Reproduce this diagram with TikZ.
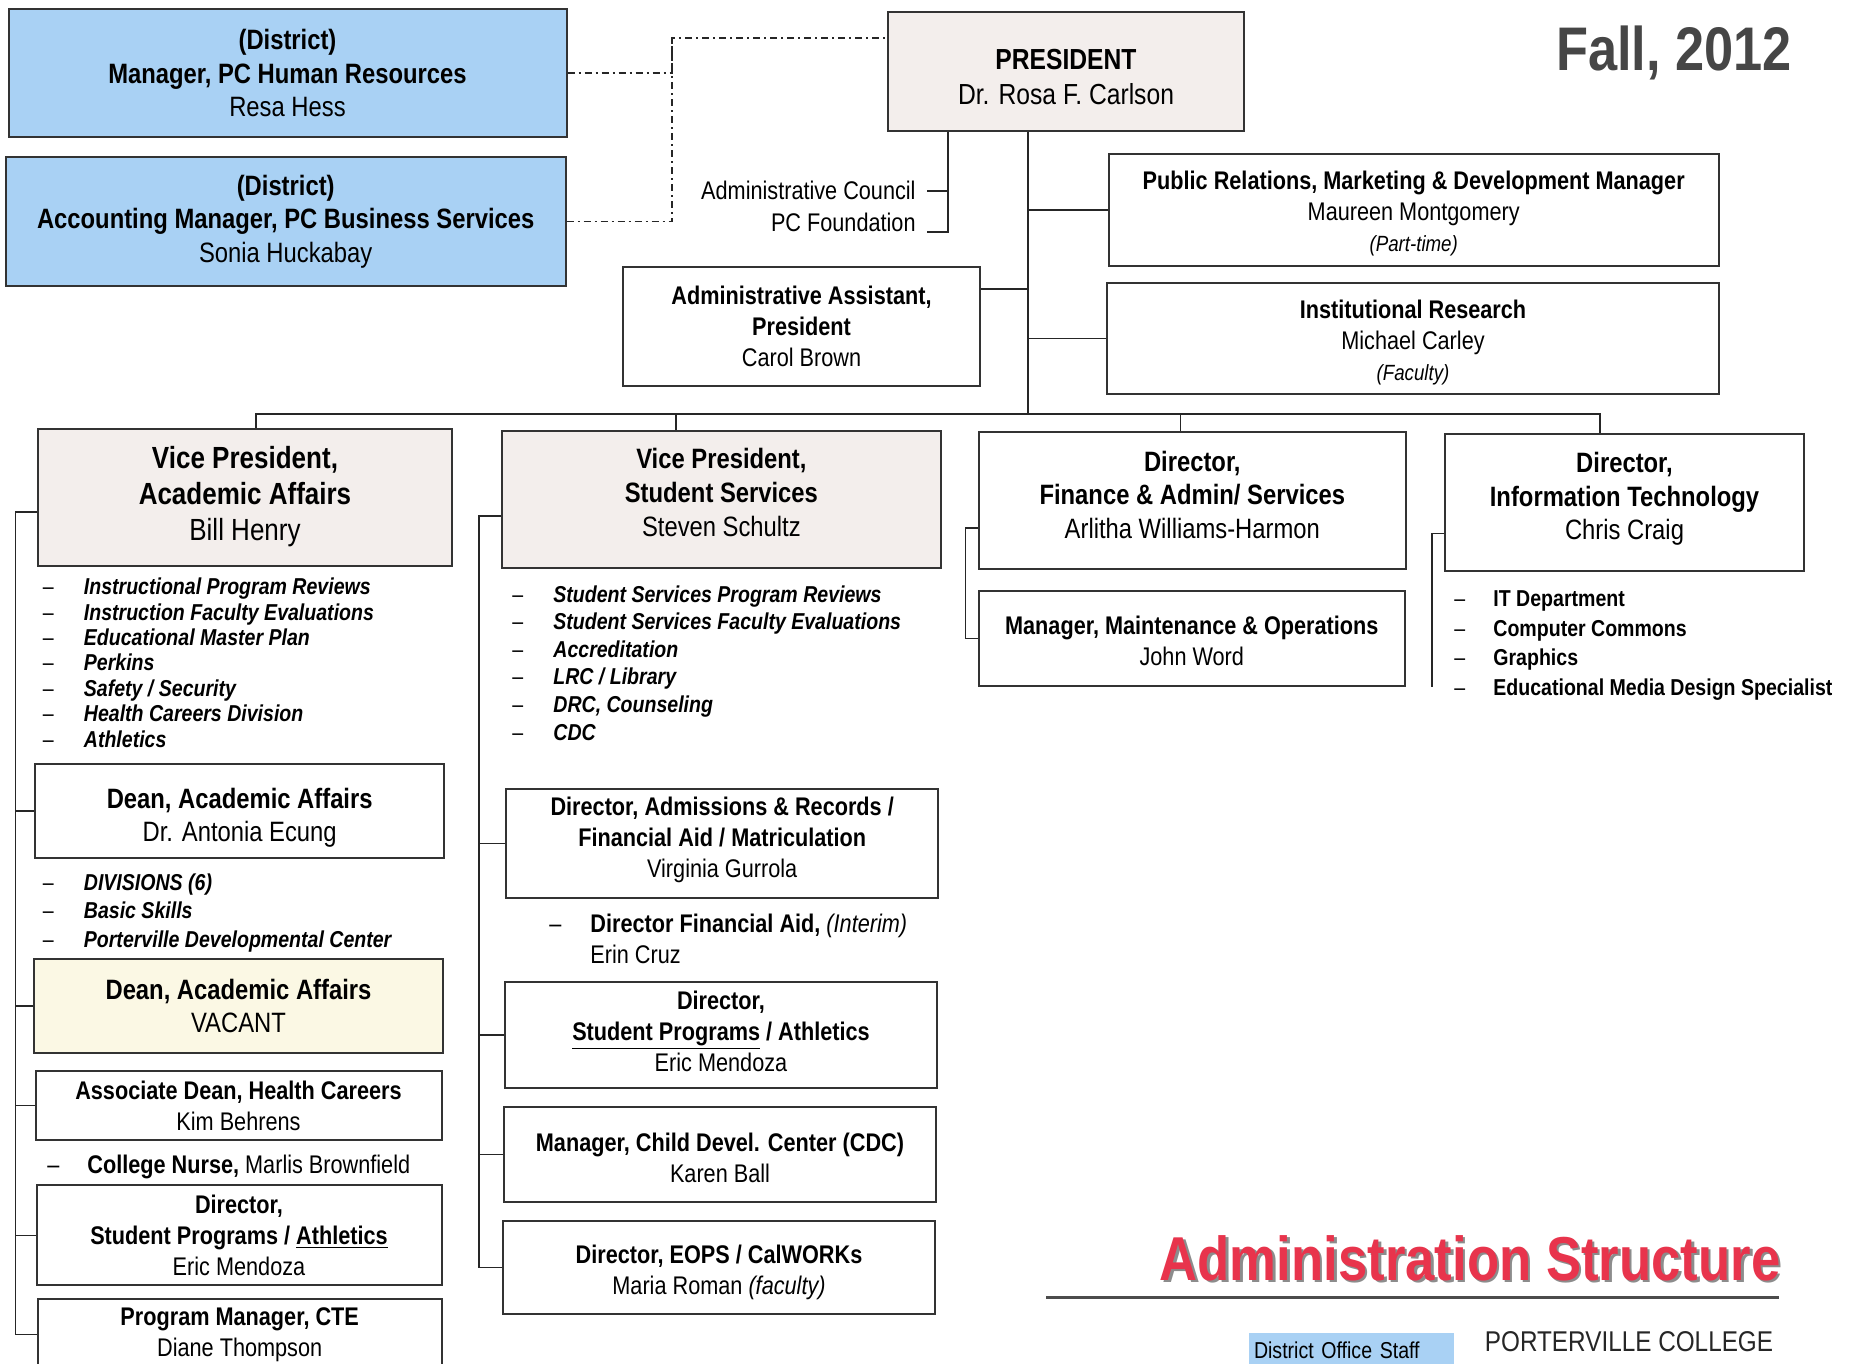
\documentclass[tikz,border=0pt]{standalone}
\usepackage{fontspec}
\setmainfont{Liberation Sans}[FakeStretch=0.85]
\usetikzlibrary{calc}

\definecolor{distblue}{RGB}{169,209,244}
\definecolor{vpfill}{RGB}{243,238,236}
\definecolor{vacfill}{RGB}{251,248,228}
\definecolor{titlered}{RGB}{232,52,76}
\definecolor{fallgray}{RGB}{70,70,70}

\newcommand{\txtsmall}{\fontsize{12.75pt}{15.4pt}\selectfont}
\newcommand{\txtmid}{\fontsize{14pt}{16.8pt}\selectfont}
\newcommand{\txtbig}{\fontsize{15.3pt}{18pt}\selectfont}
\newcommand{\txtnote}{\fontsize{11pt}{13pt}\selectfont}
\newcommand{\dashitem}[1][20.5pt]{\makebox[#1][l]{\normalfont --}}

\tikzset{
  box/.style={draw=black!80, line width=1pt, fill=white, align=center, inner sep=0pt, font=\txtsmall},
  wh/.style 2 args={minimum width=#1*0.5pt, minimum height=#2*0.5pt},
  conn/.style={draw=black!85, line width=0.8pt},
  distline/.style={draw=black!85, line width=0.7pt, dash pattern=on 3.5pt off 2pt on 1pt off 2pt},
  listtxt/.style={anchor=base west, align=left, inner sep=0pt},
}

\begin{document}
\begin{tikzpicture}[x=0.5pt,y=-0.5pt]
    \useasboundingbox (0,0) rectangle (1851,1364);
    \clip (0,0) rectangle (1851,1364);

    % district office staff
    \node[box, fill=distblue, font=\txtmid, wh={558}{128}] (hr) at (287.5,73.2)
        {\textbf{(District)}\\\textbf{Manager, PC Human Resources}\\Resa Hess};
    \node[box, fill=distblue, font=\txtmid, wh={560}{129}] (acct) at (285.7,221.4)
        {\textbf{(District)}\\\textbf{Accounting Manager, PC Business Services}\\Sonia Huckabay};

    % president and staff
    \node[box, fill=vpfill, font=\fontsize{14.5pt}{17.3pt}\selectfont, wh={356}{119}] (pres) at (1066,71.4)
        {\rule{0pt}{16pt}\textbf{PRESIDENT}\\Dr. Rosa F. Carlson};
    \node[box, wh={357}{119}] (asst) at (801.5,326.5)
        {\textbf{Administrative Assistant,}\\\textbf{President}\\Carol Brown};
    \node[box, wh={610}{111}] (pr) at (1413.7,210)
        {\rule{0pt}{13pt}\textbf{Public Relations, Marketing \& Development Manager}\\Maureen Montgomery\\{\txtnote\itshape (Part-time)}};
    \node[box, wh={612}{111}] (ir) at (1413,338.5)
        {\rule{0pt}{13pt}\textbf{Institutional Research}\\Michael Carley\\{\txtnote\itshape (Faculty)}};

    \node[anchor=base east, inner sep=0pt, font=\txtsmall] (council) at (916,200) {Administrative Council};
    \node[anchor=base east, inner sep=0pt, font=\txtsmall] (found) at (916,232) {PC Foundation};

    \node[font=\fontsize{30.8pt}{34pt}\selectfont\bfseries, text=fallgray] (fall) at (1674,53) {Fall, 2012};

    % vice presidents and directors
    \node[box, fill=vpfill, font=\txtbig, wh={414}{137}] (vpaa) at (245,497)
        {\textbf{Vice President,}\\\textbf{Academic Affairs}\\Bill Henry};
    \node[box, fill=vpfill, font=\fontsize{14pt}{16.9pt}\selectfont, wh={439}{137}] (vpss) at (721.4,499.5)
        {\textbf{Vice President,}\\\textbf{Student Services}\\Steven Schultz\rule[-7pt]{0pt}{1pt}};
    \node[box, font=\txtmid, wh={427}{137}] (fin) at (1192.3,500.5)
        {\textbf{Director,}\\\textbf{Finance \& Admin/ Services}\\Arlitha Williams-Harmon\rule[-5.9pt]{0pt}{1pt}};
    \node[box, font=\txtmid, wh={359}{137}] (it) at (1624.5,502.5)
        {\textbf{Director,}\\\textbf{Information Technology}\\Chris Craig\rule[-6.5pt]{0pt}{1pt}};
    \node[box, wh={426}{95}] (mo) at (1191.8,638.5)
        {\rule{0pt}{12pt}\textbf{Manager, Maintenance \& Operations}\\John Word};

    % academic affairs column
    \node[listtxt, font=\fontsize{11.5pt}{12.7pt}\selectfont\bfseries\itshape] (aalist) at (42.5,747)
        {\dashitem Instructional Program Reviews\\\dashitem Instruction Faculty Evaluations\\
         \dashitem Educational Master Plan\\\dashitem Perkins\\\dashitem Safety / Security\\
         \dashitem Health Careers Division\\\dashitem Athletics};
    \node[box, font=\fontsize{14pt}{16.5pt}\selectfont, wh={409}{94}] (dean) at (239.7,811)
        {\rule{0pt}{17pt}\textbf{Dean, Academic Affairs}\\Dr. Antonia Ecung};
    \node[listtxt, font=\fontsize{11.5pt}{14.1pt}\selectfont\bfseries\itshape] (deanlist) at (42.5,947)
        {\dashitem DIVISIONS (6)\\\dashitem Basic Skills\\\dashitem Porterville Developmental Center};
    \node[box, fill=vacfill, font=\fontsize{14pt}{16.5pt}\selectfont, wh={409}{94}] (vacant) at (238.5,1005.7)
        {\textbf{Dean, Academic Affairs}\\VACANT};
    \node[box, wh={406}{69}] (assoc) at (238.5,1105.5)
        {\textbf{Associate Dean, Health Careers}\\Kim Behrens};
    \node[listtxt, font=\txtsmall] (nurse) at (47,1173)
        {\dashitem[20pt]\textbf{College Nurse,} Marlis Brownfield};
    \node[box, wh={405}{100}] (spl) at (239,1235.3)
        {\textbf{Director,}\\\textbf{Student Programs / \underline{Athletics}}\\Eric Mendoza};
    \node[box, wh={404}{72}] (cte) at (239.7,1334.6)
        {\textbf{Program Manager, CTE}\\Diane Thompson};

    % student services column
    \node[listtxt, font=\fontsize{11.5pt}{13.8pt}\selectfont\bfseries\itshape] (sslist) at (512,740)
        {\dashitem Student Services Program Reviews\\\dashitem Student Services Faculty Evaluations\\
         \dashitem Accreditation\\\dashitem LRC / Library\\\dashitem DRC, Counseling\\\dashitem CDC};
    \node[box, wh={432}{109}] (adm) at (722.2,843.3)
        {\textbf{Director, Admissions \& Records /}\\\textbf{Financial Aid / Matriculation}\\Virginia Gurrola\rule[-6pt]{0pt}{1pt}};
    \node[listtxt, font=\txtsmall] (fa) at (549,963)
        {\dashitem\textbf{Director Financial Aid,} \textit{(Interim)}\\\hspace*{20.5pt}Erin Cruz};
    \node[box, wh={432}{106}] (spm) at (721,1035)
        {\textbf{Director,}\\\textbf{\underline{Student Programs} / Athletics}\\Eric Mendoza\rule[-3.6pt]{0pt}{1pt}};
    \node[box, wh={432}{95}] (cdc) at (720,1154.5)
        {\rule{0pt}{13pt}\textbf{Manager, Child Devel. Center (CDC)}\\Karen Ball};
    \node[box, wh={432}{93}] (eops) at (719,1267.3)
        {\rule{0pt}{14pt}\textbf{Director, EOPS / CalWORKs}\\Maria Roman \textit{(faculty)}};

    % information technology
    \node[listtxt, font=\fontsize{11.5pt}{14.75pt}\selectfont\bfseries] (itlist) at (1454,695)
        {\dashitem[19.5pt]IT Department\\\dashitem[19.5pt]Computer Commons\\
         \dashitem[19.5pt]Graphics\\\dashitem[19.5pt]Educational Media Design Specialist};

    % dash-dot lines to district staff
    \coordinate (ddtop) at (672,38);
    \draw[distline] (hr.east) -| (ddtop) -- (ddtop -| pres.west);
    \draw[distline] (acct.east) -| (ddtop);

    % council and foundation
    \coordinate (cspine) at (948,232);
    \draw[conn] (pres.south -| cspine) -- (cspine) -- ([xshift=5.5pt]found.base east);
    \draw[conn] ([xshift=5.5pt]council.east) -- (council.east -| cspine);

    % trunk and bus
    \coordinate (trunk) at (1028,414);
    \draw[conn] (pres.south -| trunk) -- (trunk);
    \draw[conn] ([yshift=18.75pt]asst.east) -- ([yshift=18.75pt]asst.east -| trunk);
    \draw[conn] (pr.west) -- (pr.west -| trunk);
    \draw[conn] (ir.west) -- (ir.west -| trunk);

    \coordinate (busl) at (256,414);
    \coordinate (busr) at (1600,414);
    \draw[conn] (busl |- vpaa.north) -- (busl) -- (busr) -- (busr |- it.north);
    \coordinate (dropss) at (676,414);
    \draw[conn] (dropss) -- (dropss |- vpss.north);
    \coordinate (dropfin) at (1180.5,414);
    \draw[conn] (dropfin) -- (dropfin |- fin.north);

    % spines
    \coordinate (aaspine) at (15.3,0);
    \draw[conn] ([yshift=-7.5pt]vpaa.west) -- ([yshift=-7.5pt]vpaa.west -| aaspine) |- (cte.west);
    \foreach \n in {dean,vacant,assoc,spl}
        \draw[conn] (\n.west) -- (\n.west -| aaspine);

    \coordinate (ssspine) at (479,0);
    \draw[conn] ([yshift=-8.25pt]vpss.west) -- ([yshift=-8.25pt]vpss.west -| ssspine) |- (eops.west);
    \foreach \n in {adm,spm,cdc}
        \draw[conn] (\n.west) -- (\n.west -| ssspine);

    \coordinate (finspine) at (965.6,0);
    \draw[conn] ([yshift=-13.6pt]fin.west) -- ([yshift=-13.6pt]fin.west -| finspine) |- (mo.west);

    \coordinate (itend) at (1432,687);
    \draw[conn] ([yshift=-15.5pt]it.west) -| (itend);

    % footer
    \node[font=\fontsize{31pt}{34pt}\selectfont\bfseries, text=black!45] (titleshadow) at (1472.5,1260.5) {Administration Structure};
    \node[font=\fontsize{31pt}{34pt}\selectfont\bfseries, text=titlered] (title) at (1470,1258) {Administration Structure};
    \draw[line width=1.75pt, draw=black!70] (1046,1297.4) -- (1779,1297.4);
    \node[fill=distblue, inner sep=0pt, inner xsep=2.5pt, text width=97.5pt, align=left, minimum height=17pt,
          font=\fontsize{11.5pt}{13pt}\selectfont] (dos) at (1351.5,1350) {District Office Staff};
    \node[font=\fontsize{14.3pt}{16pt}\selectfont, text=black!85] (college) at (1629,1342) {PORTERVILLE COLLEGE};
\end{tikzpicture}
\end{document}
